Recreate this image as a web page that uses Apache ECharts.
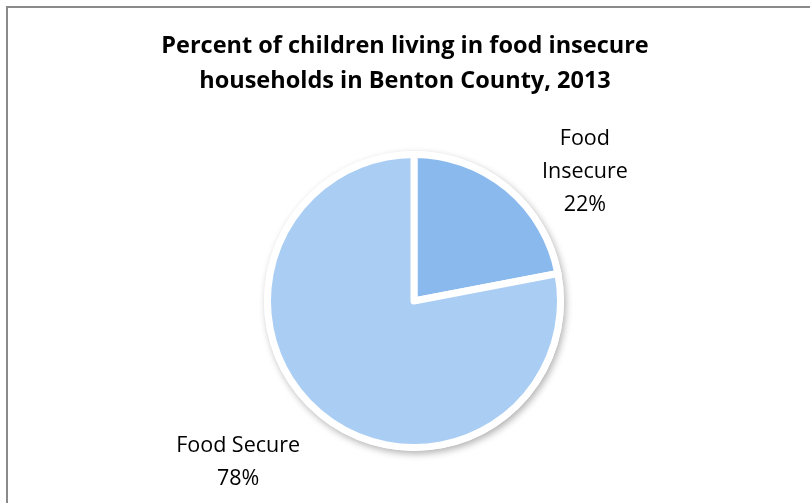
<!DOCTYPE html>
<html>
<head>
<meta charset="utf-8">
<script src="https://cdn.jsdelivr.net/npm/echarts@6/dist/echarts.min.js"></script>
<style>
  html, body { margin: 0; padding: 0; background: #fff; overflow: hidden; }
  #frame {
    position: absolute; left: 6px; top: 6px;
    width: 810px; height: 503px;
    border-left: 2px solid #8a8a8a; border-top: 2px solid #8a8a8a;
  }
  #chart { position: absolute; left: 0; top: 0; width: 810px; height: 503px; }
</style>
</head>
<body>
<div id="frame"></div>
<div id="chart"></div>
<script>
// Chart content
const titleText = 'Percent of children living in food insecure\nhouseholds in Benton County, 2013';
const categories = ['Food\nInsecure', 'Food Secure'];
const values = [22, 78];
const colors = ['#8ab9ee', '#aacdf3'];

// Per-slice label nudges (pixels) relative to the default outside position
const labelNudge = [
  { dx: 47, dy: 15 },
  { dx: -52, dy: 18 }
];

const chart = echarts.init(document.getElementById('chart'), null, { renderer: 'canvas' });

const center = [414, 301];
const outerR = 150;

chart.setOption({
  animation: false,
  title: {
    text: titleText,
    left: 'center',
    top: 24,
    textStyle: {
      fontFamily: 'Open Sans',
      fontWeight: 'bold',
      fontSize: 23.5,
      lineHeight: 35,
      color: '#000'
    }
  },
  series: [
    {
      // white backing disc that casts the soft drop shadow
      type: 'pie',
      silent: true,
      center: center,
      radius: [0, outerR],
      label: { show: false },
      labelLine: { show: false },
      itemStyle: {
        color: '#ffffff',
        shadowBlur: 7,
        shadowOffsetX: 2,
        shadowOffsetY: 3,
        shadowColor: 'rgba(0,0,0,0.3)'
      },
      data: [{ value: 1 }]
    },
    {
      type: 'pie',
      center: center,
      radius: [0, outerR - 3.5],
      startAngle: 90,
      clockwise: true,
      avoidLabelOverlap: false,
      itemStyle: { borderColor: '#ffffff', borderWidth: 7 },
      label: {
        show: true,
        position: 'outside',
        formatter: (p) => p.name + '\n' + p.value + '%',
        fontFamily: 'Open Sans',
        fontSize: 21.5,
        lineHeight: 33,
        color: '#000',
        align: 'center'
      },
      labelLine: { show: false, length: 40, length2: 0 },
      labelLayout: (params) => ({
        dx: labelNudge[params.dataIndex].dx,
        dy: labelNudge[params.dataIndex].dy,
        align: 'center'
      }),
      emphasis: { disabled: true },
      data: categories.map((name, i) => ({
        name: name,
        value: values[i],
        itemStyle: { color: colors[i] }
      }))
    }
  ]
});
</script>
</body>
</html>
